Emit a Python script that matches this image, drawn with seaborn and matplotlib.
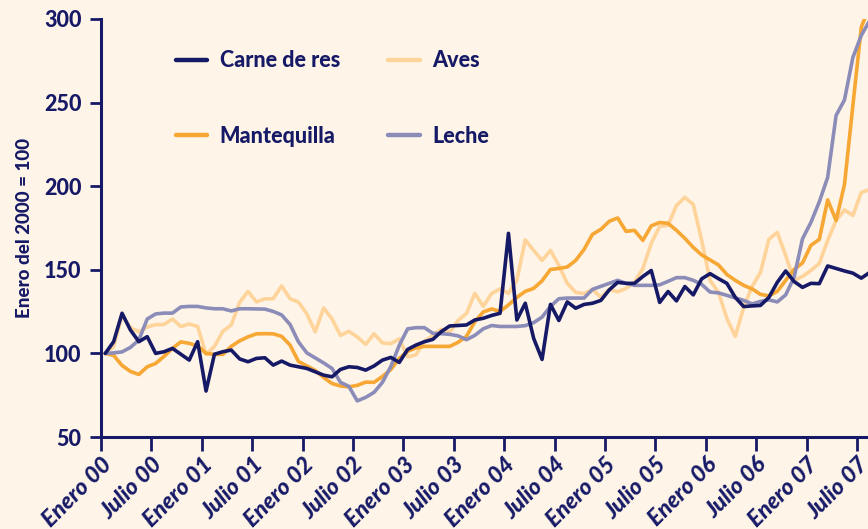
import numpy as np
import pandas as pd
import matplotlib
matplotlib.use("Agg")
import matplotlib.pyplot as plt
import seaborn as sns

# Monthly price indices, January 2000 = 100
carne = [100, 107, 124, 114, 107, 110, 100, 101, 103, 99.5,
         96, 107, 77.5, 99.5, 101, 102, 96.7, 95, 97, 97.4,
         93, 95.4, 93, 92, 91, 89, 87, 86, 90.4, 92,
         91.6, 90, 92.5, 96, 97.6, 94.6, 102.4, 105, 107, 108.4,
         113, 116.4, 116.7, 117, 120, 121, 122.7, 124, 171.8, 120,
         130, 109, 96.4, 129.3, 119.7, 130.8, 127, 129.3, 130, 131.7,
         138, 142.5, 141.9, 141.9, 146, 149.6, 130.5, 137, 131.4, 140,
         135, 144.6, 147.7, 144.7, 141.9, 133.5, 128, 128.4, 128.7, 133.5,
         142.5, 149.3, 143, 139.5, 141.9, 141.7, 152.3, 150.8, 149.3, 148,
         145, 148.4]
aves = [100, 104.2, 122.7, 115.3, 112.9, 115.8, 117.2, 117.3, 120.6, 116.1,
        117.6, 116.1, 99.4, 104.2, 113.2, 117, 130.5, 137.1, 130.8, 132.6,
        132.7, 140.4, 132.7, 130.7, 123.6, 112.9, 127.2, 120.6, 110.8, 113.2,
        109.9, 105.4, 111.7, 106.3, 105.8, 108.7, 97.9, 99.2, 107.2, 110.8,
        114.4, 112.6, 119.7, 123.9, 135.9, 128.1, 135.9, 138.6, 135.9, 143.7,
        167.9, 161.6, 155.6, 161.6, 152.6, 141.9, 136.5, 135.7, 138.3, 133.5,
        138.3, 136.8, 138.9, 142.5, 150.8, 165.8, 176, 176.6, 188.5, 193.3,
        189.1, 167.6, 143.7, 136.5, 120.9, 110.2, 127.5, 140, 148.4, 168.2,
        172.4, 158.6, 143.7, 146, 149.6, 153.8, 167.6, 179.5, 185.8, 182.5,
        196.3, 198]
mantequilla = [100, 98.8, 92.8, 89.2, 87.4, 92, 94, 98.2, 103, 106.9,
               106, 104.5, 100, 99.4, 99.4, 104.2, 107.5, 109.9, 111.7, 111.8,
               111.7, 110.2, 105, 95.2, 92.5, 89.8, 85.6, 82, 80.5, 80,
               80.9, 82.8, 82.7, 86.2, 90.4, 97, 101.2, 103.3, 104.2, 104.2,
               104.2, 104.2, 106.6, 110.2, 119, 124.8, 126.6, 125.1, 129, 133.5,
               137.1, 138.9, 143.4, 150.2, 150.8, 151.7, 155.6, 162.2, 171.2, 174.2,
               179, 181, 173, 173.6, 167.6, 176.3, 178.3, 177.8, 173.6, 168.8,
               163.4, 158.9, 155.9, 152.9, 147.2, 143.7, 140.7, 138.6, 135.3, 134.4,
               137.1, 143.7, 150.2, 154.1, 164.6, 168.2, 191.8, 179.5, 201, 248.3,
               295, 308]
leche = [100, 100.3, 100.9, 103.6, 108, 120.6, 123.6, 124.1, 124.1, 127.8,
         128.1, 128.1, 127.2, 126.7, 126.7, 125.4, 126.7, 126.7, 126.6, 126.5,
         125.1, 123, 117.3, 106.9, 100.3, 97.3, 94.3, 91, 82.7, 80.3,
         71.6, 73.7, 76.7, 82.7, 92.2, 104.8, 114.7, 115.4, 115.4, 112,
         111.8, 111.4, 110.5, 108.2, 110.8, 114.7, 116.7, 116.1, 116.1, 116.1,
         116.6, 118.4, 121.7, 128.1, 132.7, 133.1, 133.1, 133.1, 138.3, 140.1,
         141.9, 143.7, 141.9, 140.7, 140.7, 140.7, 141, 143.1, 145.3, 145.3,
         143.7, 141.3, 136.7, 136.2, 134.7, 133.2, 131.7, 129.6, 131.1, 132,
         130.8, 135, 145.5, 168.5, 178.3, 190.6, 205.3, 242.3, 251.6, 277,
         290.2, 299]

tick_labels = ["Enero 00", "Julio 00", "Enero 01", "Julio 01", "Enero 02", "Julio 02",
               "Enero 03", "Julio 03", "Enero 04", "Julio 04", "Enero 05", "Julio 05",
               "Enero 06", "Julio 06", "Enero 07", "Julio 07"]

navy = "#161a66"
colors = {"Aves": "#ffd49a", "Mantequilla": "#f7a733",
          "Leche": "#8c8cb8", "Carne de res": navy}
bg = "#fef4e8"

series = {"Aves": aves, "Mantequilla": mantequilla, "Leche": leche, "Carne de res": carne}
frames = []
for name, vals in series.items():
    frames.append(pd.DataFrame({"mes": np.arange(len(vals)) + 0.5,
                                "indice": vals, "producto": name}))
df = pd.concat(frames, ignore_index=True)

sns.set_style("ticks")
plt.rcParams["font.family"] = ["Lato", "DejaVu Sans"]
plt.rcParams["font.weight"] = "black"

fig = plt.figure(figsize=(8.68, 5.29), dpi=100, facecolor=bg)
ax = fig.add_axes([0.1164, 0.1739, 0.8836, 0.7902])
ax.set_facecolor(bg)

sns.lineplot(data=df, x="mes", y="indice", hue="producto",
             hue_order=list(series.keys()), palette=colors,
             linewidth=2.6, legend=False, ax=ax)

ax.set_xlim(0, 91.3)
ax.set_ylim(50, 300)
ax.set_yticks(range(50, 301, 50))
ax.set_xticks(range(0, 91, 6))
ax.set_xticklabels(tick_labels, rotation=45, ha="right", rotation_mode="anchor",
                   style="italic", fontweight="black", fontsize=16.5, color=navy)
for lab in ax.get_yticklabels():
    lab.set_fontweight("black")
    lab.set_color(navy)
    lab.set_fontsize(15.5)
ax.set_xlabel("")
ax.set_ylabel("Enero del 2000 = 100", fontsize=13.5, fontweight="black",
              color=navy, labelpad=8)

sns.despine(ax=ax)
for side in ["left", "bottom"]:
    ax.spines[side].set_color(navy)
    ax.spines[side].set_linewidth(2.2)
ax.tick_params(axis="x", length=10, width=2, color=navy, pad=2)
ax.tick_params(axis="y", length=8, width=2, color=navy, pad=6)

lines = {name: line for name, line in zip(series.keys(), ax.get_lines())}
order = ["Carne de res", "Mantequilla", "Aves", "Leche"]
leg = ax.legend([lines[n] for n in order], order, ncol=2, loc="upper left",
                bbox_to_anchor=(0.072, 0.972), frameon=False,
                handlelength=1.45, handletextpad=0.6, labelspacing=2.53,
                columnspacing=2.25, prop={"weight": "black", "size": 15.5})
for t in leg.get_texts():
    t.set_color(navy)
for h in leg.get_lines():
    h.set_linewidth(3.2)

fig.savefig("out.png", dpi=100, facecolor=bg)
